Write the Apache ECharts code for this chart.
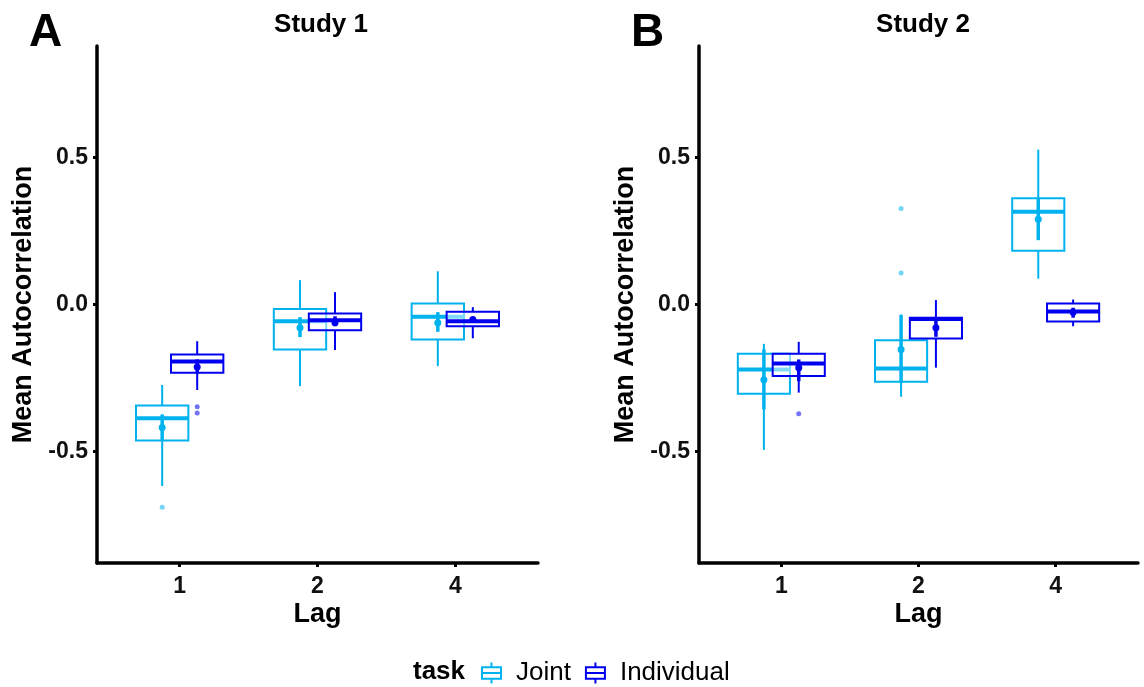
<!DOCTYPE html>
<html>
<head>
<meta charset="utf-8">
<script src="https://cdn.jsdelivr.net/npm/echarts@6/dist/echarts.min.js"></script>
<style>
  html, body { margin: 0; padding: 0; background: #fff; }
  #main { width: 1144px; height: 687px; }
</style>
</head>
<body>
<div id="main"></div>
<script>
// categories
var lagLabels = ['1', '2', '4'];
var yTicks = [-0.5, 0, 0.5];

// boxplot stats per lag: [lower whisker, Q1, median, Q3, upper whisker]
var study1Joint = [
  [-0.618, -0.463, -0.387, -0.344, -0.274],
  [-0.278, -0.153, -0.057, -0.015, 0.083],
  [-0.210, -0.119, -0.042, 0.003, 0.113]
];
var study1Individual = [
  [-0.291, -0.232, -0.194, -0.170, -0.125],
  [-0.155, -0.088, -0.054, -0.031, 0.042],
  [-0.115, -0.074, -0.057, -0.025, -0.009]
];
var study2Joint = [
  [-0.495, -0.304, -0.221, -0.168, -0.134],
  [-0.314, -0.263, -0.218, -0.122, -0.034],
  [0.088, 0.183, 0.316, 0.362, 0.527]
];
var study2Individual = [
  [-0.300, -0.243, -0.201, -0.168, -0.127],
  [-0.215, -0.116, -0.049, -0.045, 0.015],
  [-0.074, -0.058, -0.024, 0.003, 0.017]
];

// mean summaries per lag: [low, mean, high]
var study1JointMean = [[-0.465, -0.419, -0.374], [-0.111, -0.079, -0.043], [-0.093, -0.062, -0.026]];
var study1IndividualMean = [[-0.236, -0.213, -0.187], [-0.074, -0.062, -0.040], [-0.062, -0.051, -0.042]];
var study2JointMean = [[-0.357, -0.256, -0.153], [-0.266, -0.153, -0.036], [0.219, 0.290, 0.360]];
var study2IndividualMean = [[-0.261, -0.215, -0.187], [-0.110, -0.079, -0.050], [-0.045, -0.026, -0.011]];

// outliers: [lag index, value]
var study1JointOut = [[0, -0.690]];
var study1IndividualOut = [[0, -0.348], [0, -0.369]];
var study2JointOut = [[1, 0.327], [1, 0.107]];
var study2IndividualOut = [[0, -0.372]];

var colJoint = '#00B2EE';
var colIndiv = '#0000EE';
var dodge = 0.127;
var halfW = 0.19;
var font = '"Liberation Sans", Arial, sans-serif';

var chart = echarts.init(document.getElementById('main'));

function boxSeries(name, stats, sign, gi, color) {
  return {
    type: 'custom', name: name, xAxisIndex: gi, yAxisIndex: gi,
    itemStyle: { color: color },
    data: stats.map(function (s, i) { return [i + 1 + sign * dodge].concat(s); }),
    renderItem: function (params, api) {
      var x = api.value(0);
      var xc = api.coord([x, 0])[0];
      var hw = api.size([halfW, 0])[0];
      var y = [1, 2, 3, 4, 5].map(function (k) { return api.coord([x, api.value(k)])[1]; });
      return {
        type: 'group',
        children: [
          { type: 'line', shape: { x1: xc, y1: y[0], x2: xc, y2: y[1] }, style: { stroke: color, lineWidth: 2 } },
          { type: 'line', shape: { x1: xc, y1: y[3], x2: xc, y2: y[4] }, style: { stroke: color, lineWidth: 2 } },
          { type: 'rect', shape: { x: xc - hw, y: y[3], width: 2 * hw, height: y[1] - y[3] },
            style: { fill: 'rgba(255,255,255,0.5)', stroke: color, lineWidth: 2 } },
          { type: 'line', shape: { x1: xc - hw, y1: y[2], x2: xc + hw, y2: y[2] }, style: { stroke: color, lineWidth: 4 } }
        ]
      };
    }
  };
}

function meanSeries(name, stats, sign, gi, color) {
  return {
    type: 'custom', name: name, xAxisIndex: gi, yAxisIndex: gi,
    itemStyle: { color: color },
    data: stats.map(function (s, i) { return [i + 1 + sign * dodge].concat(s); }),
    renderItem: function (params, api) {
      var x = api.value(0);
      var lo = api.coord([x, api.value(1)]);
      var m = api.coord([x, api.value(2)]);
      var hi = api.coord([x, api.value(3)]);
      return {
        type: 'group',
        children: [
          { type: 'line', shape: { x1: lo[0], y1: lo[1], x2: hi[0], y2: hi[1] }, style: { stroke: color, lineWidth: 3.5 } },
          { type: 'circle', shape: { cx: m[0], cy: m[1], r: 3.5 }, style: { fill: color } }
        ]
      };
    }
  };
}

function outSeries(name, pts, sign, gi, color) {
  return {
    type: 'scatter', name: name, xAxisIndex: gi, yAxisIndex: gi,
    symbolSize: 5,
    itemStyle: { color: color, opacity: 0.55 },
    data: pts.map(function (p) { return [p[0] + 1 + sign * dodge, p[1]]; })
  };
}

function xAxis(gi) {
  return {
    type: 'value', gridIndex: gi, min: 0.4, max: 3.6,
    name: 'Lag', nameLocation: 'middle', nameGap: 38, nameMoveOverlap: false,
    nameTextStyle: { fontSize: 27, fontWeight: 'bold', color: '#000', fontFamily: font },
    axisLine: { onZero: false, lineStyle: { color: '#000', width: 3.5 } },
    axisTick: { customValues: [1, 2, 3], length: 4, lineStyle: { color: '#000', width: 3 } },
    axisLabel: { customValues: [1, 2, 3], formatter: function (v) { return lagLabels[Math.round(v) - 1]; },
      fontSize: 23, fontWeight: 'bold', color: '#111', fontFamily: font, margin: 12 },
    splitLine: { show: false }
  };
}

function yAxis(gi) {
  return {
    type: 'value', gridIndex: gi, min: -0.88, max: 0.88,
    name: 'Mean Autocorrelation', nameLocation: 'middle', nameGap: 60, nameMoveOverlap: false,
    nameTextStyle: { fontSize: 27, fontWeight: 'bold', color: '#000', fontFamily: font },
    axisLine: { show: true, onZero: false, lineStyle: { color: '#000', width: 3.5 } },
    axisTick: { show: true, customValues: yTicks, length: 4, lineStyle: { color: '#000', width: 3 } },
    axisLabel: { customValues: yTicks, formatter: function (v) { return v.toFixed(1); },
      fontSize: 23, fontWeight: 'bold', color: '#111', fontFamily: font, margin: 9 },
    splitLine: { show: false }
  };
}

var legendIcon = 'path://M10,0 L10,5 M0,5 L20,5 L20,17 L0,17 Z M0,11 L20,11 M10,17 L10,22';

var option = {
  backgroundColor: '#fff',
  animation: false,
  title: [
    { text: 'A', left: 24, top: 5, textStyle: { fontSize: 46, fontWeight: 'bold', color: '#000', fontFamily: font } },
    { text: 'B', left: 626, top: 5, textStyle: { fontSize: 46, fontWeight: 'bold', color: '#000', fontFamily: font } },
    { text: 'Study 1', left: 316, top: 7, textAlign: 'center', textStyle: { fontSize: 26, fontWeight: 'bold', color: '#000', fontFamily: font } },
    { text: 'Study 2', left: 918, top: 7, textAlign: 'center', textStyle: { fontSize: 26, fontWeight: 'bold', color: '#000', fontFamily: font } }
  ],
  graphic: [
    { type: 'text', left: 413, top: 659, style: { text: 'task', fontSize: 26, fontWeight: 'bold', fill: '#000', fontFamily: font } }
  ],
  legend: {
    left: 476, top: 655, itemWidth: 19, itemHeight: 22, itemGap: 14,
    textStyle: { fontSize: 26, color: '#000', fontFamily: font, padding: [0, 0, 0, 10] },
    data: [
      { name: 'Joint', icon: legendIcon, itemStyle: { color: 'rgba(0,0,0,0)', borderColor: colJoint, borderWidth: 2 } },
      { name: 'Individual', icon: legendIcon, itemStyle: { color: 'rgba(0,0,0,0)', borderColor: colIndiv, borderWidth: 2 } }
    ]
  },
  grid: [
    { left: 97, top: 46, width: 441, height: 517, outerBoundsMode: 'none' },
    { left: 699, top: 46, width: 439, height: 517, outerBoundsMode: 'none' }
  ],
  xAxis: [xAxis(0), xAxis(1)],
  yAxis: [yAxis(0), yAxis(1)],
  series: [
    boxSeries('Joint', study1Joint, -1, 0, colJoint),
    outSeries('Joint', study1JointOut, -1, 0, colJoint),
    boxSeries('Individual', study1Individual, 1, 0, colIndiv),
    outSeries('Individual', study1IndividualOut, 1, 0, colIndiv),
    meanSeries('Joint', study1JointMean, -1, 0, colJoint),
    meanSeries('Individual', study1IndividualMean, 1, 0, colIndiv),
    boxSeries('Joint', study2Joint, -1, 1, colJoint),
    outSeries('Joint', study2JointOut, -1, 1, colJoint),
    boxSeries('Individual', study2Individual, 1, 1, colIndiv),
    outSeries('Individual', study2IndividualOut, 1, 1, colIndiv),
    meanSeries('Joint', study2JointMean, -1, 1, colJoint),
    meanSeries('Individual', study2IndividualMean, 1, 1, colIndiv)
  ]
};

chart.setOption(option);
</script>
</body>
</html>
